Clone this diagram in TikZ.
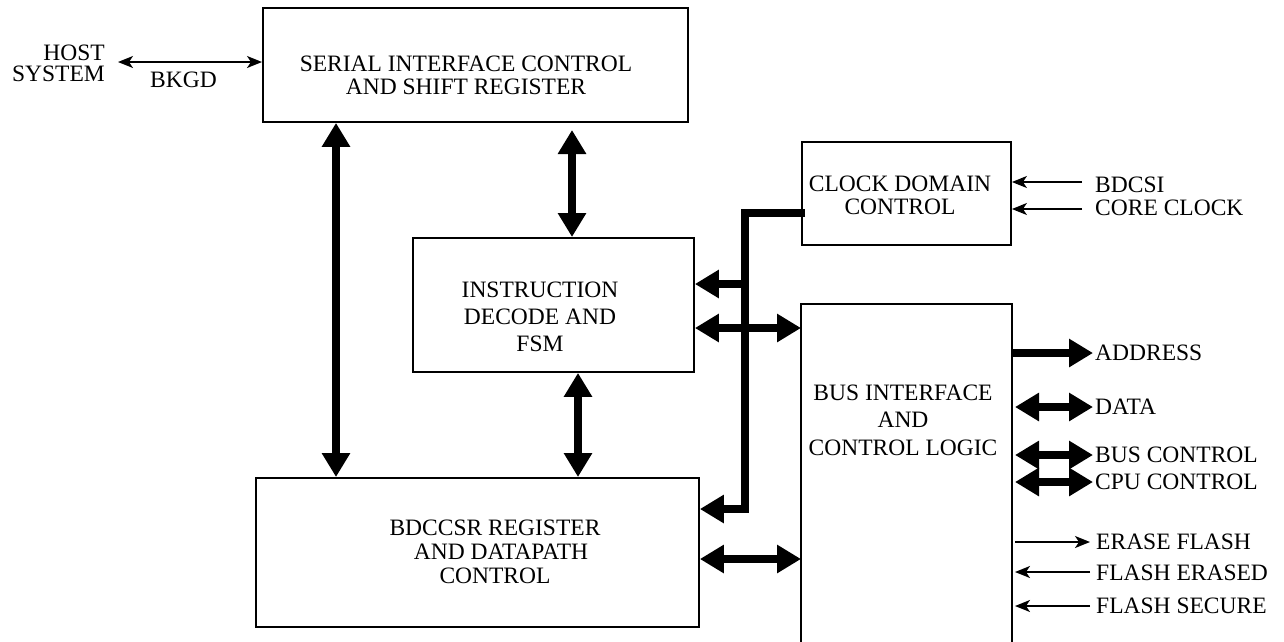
\documentclass[tikz,border=0pt]{standalone}
\usepackage{fontspec}
\setmainfont{Liberation Serif}
\usetikzlibrary{arrows.meta}
\begin{document}
\begin{tikzpicture}[x=1pt,y=-1pt,
  box/.style={draw, line width=1.9pt, inner sep=0pt, anchor=north west},
  txt/.style={inner sep=0pt, align=center, font=\fontsize{23.5}{#1}\selectfont},
  lbl/.style={inner sep=0pt, anchor=west, font=\fontsize{23.5}{24}\selectfont},
  fat/.style={line width=8pt, line join=miter, -{Triangle[length=24pt,width=27pt]}},
  fatboth/.style={line width=8pt, {Triangle[length=24pt,width=27pt]}-{Triangle[length=24pt,width=27pt]}},
  thin/.style={line width=1.7pt, -{Stealth[length=15pt,width=12pt,inset=4pt]}},
  thinboth/.style={line width=1.7pt, {Stealth[length=15pt,width=12pt,inset=4pt]}-{Stealth[length=15pt,width=12pt,inset=4pt]}},
]
\useasboundingbox (0,0) rectangle (1284,641);

% blocks
\node[box, minimum width=425pt, minimum height=114pt] (sic) at (262,7) {};
\node[txt=23] (sicT) at (466,75) {SERIAL INTERFACE CONTROL\\AND SHIFT REGISTER};

\node[box, minimum width=281pt, minimum height=134pt] (ins) at (412,237) {};
\node[txt=27] (insT) at (540,317) {INSTRUCTION\\DECODE AND\\FSM};

\node[box, minimum width=443pt, minimum height=149pt] (bdc) at (255,477) {};
\node[txt=24] (bdcT) at (495,552) {BDCCSR REGISTER\\\hspace*{12pt}AND DATAPATH\\CONTROL};

\node[box, minimum width=209pt, minimum height=103pt] (clk) at (801,141) {};
\node[txt=23] (clkT) at (900,195) {CLOCK DOMAIN\\CONTROL};

\node[box, draw=none, minimum width=209pt, minimum height=337pt] (bus) at (801,304) {};
\draw[line width=1.9pt] (bus.south west) -- (bus.north west) -- (bus.north east) -- (bus.south east);
\node[txt=27.5] (busT) at (903,420) {BUS INTERFACE\\AND\\CONTROL LOGIC};

% host
\node[inner sep=0pt, align=right, anchor=east, font=\fontsize{23.5}{21}\selectfont] (host) at (105,63) {HOST\\SYSTEM};
\coordinate (bk) at (118,62);
\draw[thinboth] (bk) -- (bk -| sic.west);
\node[lbl] (bkgd) at (150,80) {BKGD};

% vertical buses
\coordinate (va) at (336,0);
\coordinate (vb) at (572,0);
\coordinate (vc) at (578,0);
\draw[fatboth] (va |- sic.south) -- (va |- bdc.north);
\draw[fatboth] (572,130) -- (vb |- ins.north);
\draw[fatboth] (vc |- ins.south) -- (vc |- bdc.north);

% clock bus
\coordinate (cj) at (745,213);
\coordinate (cb) at (745,509);
\draw[fat] (clk.west |- cj) ++(4,0) -- (cj) -- (cb) -- (cb -| bdc.east);
\coordinate (cbr) at (745,284);
\draw[fat] (cbr) -- (cbr -| ins.east);

% horizontal double buses
\coordinate (h1) at (0,328);
\coordinate (h2) at (0,559);
\draw[fatboth] (h1 -| ins.east) -- (h1 -| bus.west);
\draw[fatboth] (h2 -| bdc.east) -- (h2 -| bus.west);

% clock inputs
\node[lbl] (bdcsi) at (1095,185) {BDCSI};
\node[lbl] (core) at (1095,208) {CORE CLOCK};
\coordinate (i1) at (1082,182);
\coordinate (i2) at (1082,209);
\draw[thin] (i1) -- (i1 -| clk.east);
\draw[thin] (i2) -- (i2 -| clk.east);

% right side signals
\node[lbl] (addr) at (1095,353) {ADDRESS};
\node[lbl] (data) at (1095,407) {DATA};
\node[lbl] (busc) at (1095,455) {BUS CONTROL};
\node[lbl] (cpuc) at (1095,482) {CPU CONTROL};
\node[lbl] (erase) at (1096,542) {ERASE FLASH};
\node[lbl] (erased) at (1096,573) {FLASH ERASED};
\node[lbl] (secure) at (1096,606) {FLASH SECURE};

\coordinate (ra) at (1093,353);
\draw[fat] (ra -| bus.east) -- (ra);
\coordinate (rd1) at (1015,407);
\coordinate (rd2) at (1093,407);
\draw[fatboth] (rd1) -- (rd2);
\coordinate (rb1) at (1015,455);
\coordinate (rb2) at (1093,455);
\draw[fatboth] (rb1) -- (rb2);
\coordinate (rc1) at (1015,482);
\coordinate (rc2) at (1093,482);
\draw[fatboth] (rc1) -- (rc2);

\coordinate (te1) at (1015,542);
\coordinate (te2) at (1090,542);
\draw[thin] (te1) -- (te2);
\coordinate (tf1) at (1015,572);
\coordinate (tf2) at (1090,572);
\draw[thin] (tf2) -- (tf1);
\coordinate (ts1) at (1015,606);
\coordinate (ts2) at (1090,606);
\draw[thin] (ts2) -- (ts1);
\end{tikzpicture}
\end{document}
